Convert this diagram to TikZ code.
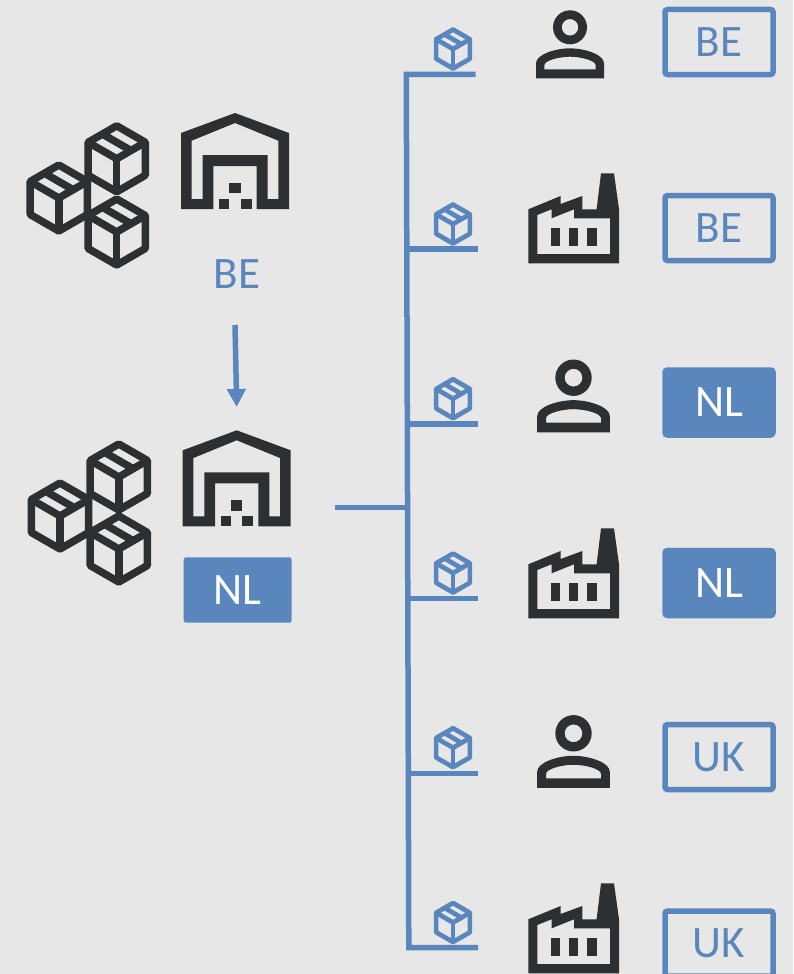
\documentclass[tikz,border=0pt]{standalone}
\usepackage{fontspec}
\setmainfont{Carlito}
\usepackage{tikz}
\usetikzlibrary{arrows.meta}
\definecolor{lineblue}{HTML}{5A86BE}
\definecolor{icondark}{HTML}{2C3032}
\definecolor{pagegrey}{HTML}{E7E7E7}

\tikzset{
    crate/.pic={
        \draw[pic actions, line join=round] (0, -33) -- (28.6, -16.5) -- (28.6, 16.5) -- (0, 33) -- (-28.6, 16.5) -- (-28.6, -16.5) -- cycle;
        \draw[pic actions, line join=round] (-28.6, -16.5) -- (0, 0) -- (28.6, -16.5);
        \draw[pic actions] (0, 0) -- (0, 33);
        \draw[pic actions] (-14.3, -24.75) -- (14.3, -8.25);
    },
    depot/.pic={
        \fill[icondark, even odd rule] (-54, 48) -- (-54, -28) -- (0, -48) -- (54, -28) -- (54, 48) -- (21.7, 48) -- (21.7, 5) -- (-21.7, 5) -- (-21.7, 48) -- cycle
            (-43.3, 38) -- (-32.3, 38) -- (-32.3, -6) -- (32.7, -6) -- (32.7, 38) -- (43.3, 38) -- (43.3, -20.3) -- (0, -38) -- (-43.3, -20.3) -- cycle;
        \fill[icondark] (-5.7, 21.7) rectangle (5.7, 32.3);
        \fill[icondark] (-16, 38) rectangle (-5.7, 48);
        \fill[icondark] (5.7, 38) rectangle (16.7, 48);
    },
    person/.pic={
        \fill[icondark, even odd rule] (0, 0) circle (17) (0, 0) circle (8.3);
        \fill[icondark, even odd rule] (-34, 51) -- (-34, 36) .. controls (-34, 27) and (-14, 21) .. (0, 21) .. controls (14, 21) and (34, 27) .. (34, 36) -- (34, 51) -- cycle
            (-25.7, 42) -- (-25.7, 38) .. controls (-25.7, 33) and (-10, 29.4) .. (0, 29.4) .. controls (10, 29.4) and (25.7, 33) .. (25.7, 38) -- (25.7, 42) -- cycle;
    },
    factory/.pic={
        \fill[icondark, even odd rule] (0, 0) -- (0, -54) -- (32.3, -67.3) -- (32.3, -59.3) -- (54, -67.3) -- (54, -54) -- (68.3, -54) -- (72.7, -90) -- (85.7, -90) -- (90.7, -54) -- (90.7, 0) -- cycle
            (9, -9.3) -- (81.7, -9.3) -- (81.7, -45) -- (45.7, -45) -- (45.7, -54) -- (23.3, -45) -- (23.3, -54) -- (9, -48.3) -- cycle;
        \fill[icondark] (22.7, -35.7) rectangle (31.7, -17.7);
        \fill[icondark] (40.7, -35.7) rectangle (50, -17.7);
        \fill[icondark] (59, -35.7) rectangle (68.3, -17.7);
    }
}

\begin{document}
\begin{tikzpicture}[x=1pt, y=-1pt,
    every node/.style={font=\fontsize{45}{54}\selectfont, inner sep=0pt},
    outlined/.style={draw=lineblue, line width=5.5pt, rounded corners=2.5pt, minimum width=108pt, minimum height=65pt, text=lineblue},
    filled/.style={outlined, fill=lineblue, text=white},
    flatbox/.style={fill=lineblue, rounded corners=2.5pt, minimum width=108pt, minimum height=65.4pt, text=white},
    wire/.style={draw=lineblue, line width=5.5pt},
    bigcrate/.style={draw=icondark, line width=7.5pt},
    smallcrate/.style={draw=lineblue, line width=4.7pt, scale=0.59}]
    \fill[pagegrey, use as bounding box] (0, 0) rectangle (793, 974);

    \draw (116.7, 158.8) pic[bigcrate]{crate};
    \draw (58.8, 198) pic[bigcrate]{crate};
    \draw (116.7, 232) pic[bigcrate]{crate};
    \draw (235, 161) pic{depot};
    \draw (237, 274) node(source)[text=lineblue]{BE};

    \draw (118.8, 477) pic[bigcrate]{crate};
    \draw (60, 516) pic[bigcrate]{crate};
    \draw (118.8, 549) pic[bigcrate]{crate};
    \draw (236.7, 478.3) pic{depot};
    \draw (237.7, 590) node(hub)[flatbox]{NL};

    \draw (235, 325) coordinate(a0);
    \draw (236.7, 407) coordinate(a1);
    \draw[wire, -{Triangle[width=18pt, length=18pt]}] (a0) -- (a1);

    \draw (334.7, 507.4) coordinate(s0);
    \draw (407.5, 507.4) coordinate(s1);
    \draw[wire] (s0) -- (s1);

    \draw (406.3, 74.3) coordinate(t1);
    \draw (406.8, 249) coordinate(t2);
    \draw (407.3, 424) coordinate(t3);
    \draw (407.8, 598.3) coordinate(t4);
    \draw (408.3, 773.3) coordinate(t5);
    \draw (408.8, 947.7) coordinate(t6);
    \draw (475.5, 74.3) coordinate(e1);
    \draw (478, 249) coordinate(e2);
    \draw (478, 424) coordinate(e3);
    \draw (478, 598.3) coordinate(e4);
    \draw (478, 773.3) coordinate(e5);
    \draw (478, 947.7) coordinate(e6);
    \draw[wire] (e1) -- (t1) -- (t6) -- (e6);
    \draw[wire] (t2) -- (e2);
    \draw[wire] (t3) -- (e3);
    \draw[wire] (t4) -- (e4);
    \draw[wire] (t5) -- (e5);

    \draw (453, 49) pic[smallcrate]{crate};
    \draw (453, 224) pic[smallcrate]{crate};
    \draw (453, 398.7) pic[smallcrate]{crate};
    \draw (453, 573) pic[smallcrate]{crate};
    \draw (453, 747.7) pic[smallcrate]{crate};
    \draw (453, 922.5) pic[smallcrate]{crate};

    \draw (570, 27.3) pic{person};
    \draw (528.3, 263.3) pic{factory};
    \draw (573.5, 377.7) pic[scale=1.07]{person};
    \draw (528.3, 618.3) pic{factory};
    \draw (573.5, 733.3) pic[scale=1.07]{person};
    \draw (528.3, 973.3) pic{factory};

    \draw (719, 42) node(c1)[outlined]{BE};
    \draw (719, 228) node(c2)[outlined]{BE};
    \draw (719, 402.5) node(c3)[filled]{NL};
    \draw (719, 583) node(c4)[filled]{NL};
    \draw (719, 757) node(c5)[outlined]{UK};
    \draw (719, 943.6) node(c6)[outlined]{UK};
\end{tikzpicture}
\end{document}
